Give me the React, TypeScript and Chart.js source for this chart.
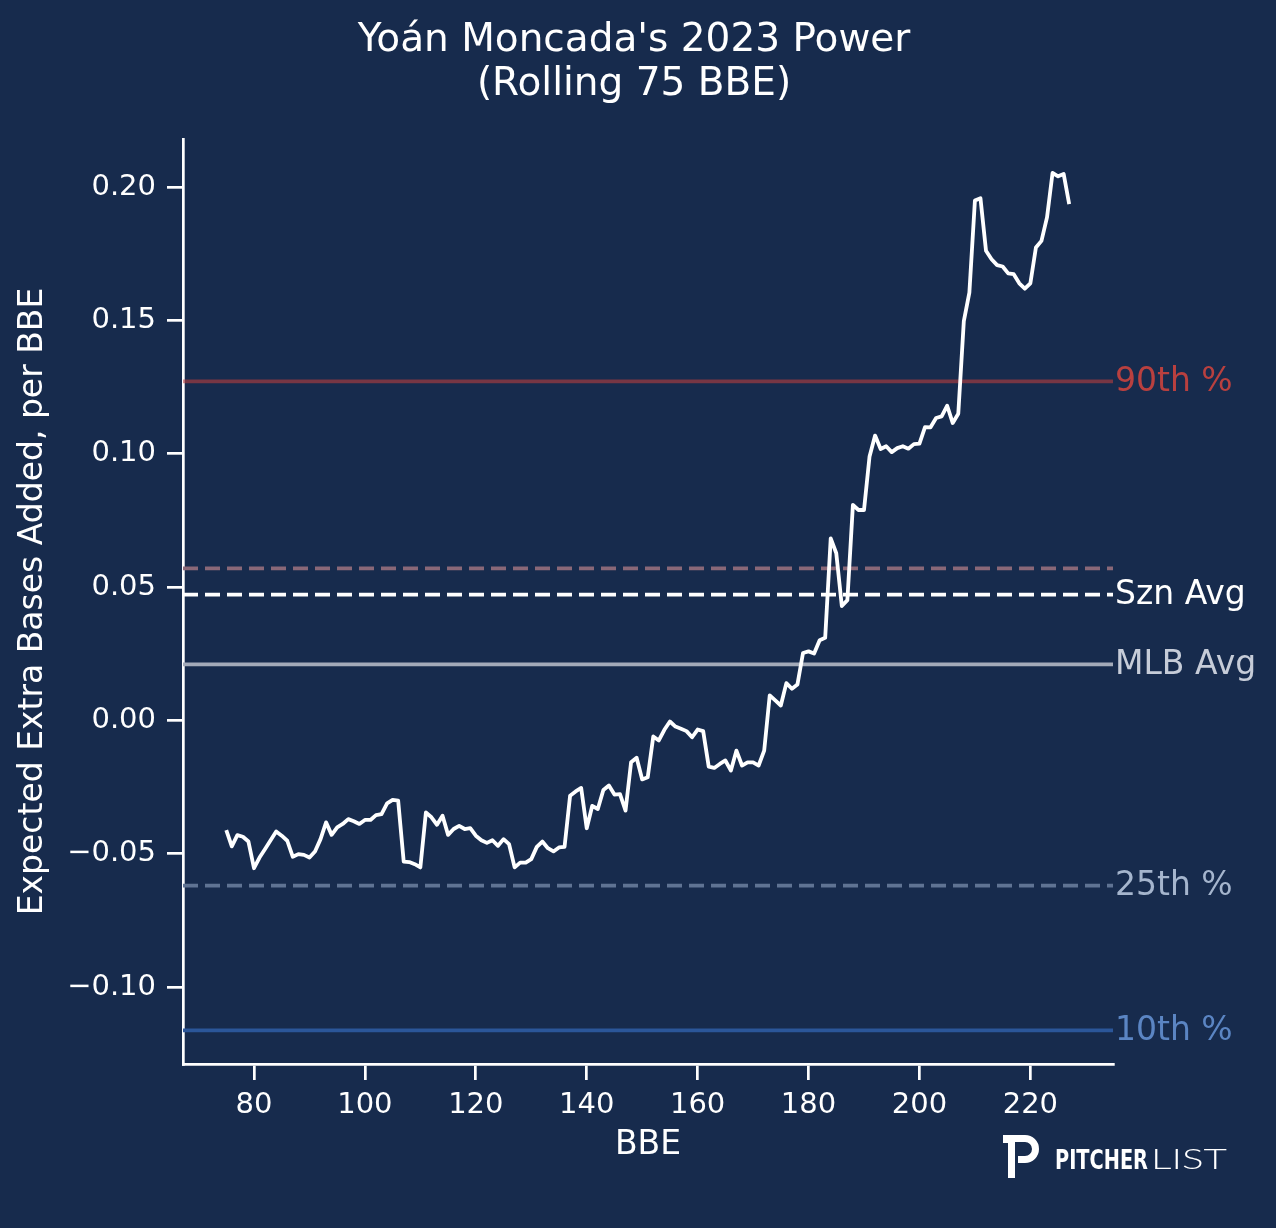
import React, { useEffect, useRef } from 'react';
import { Chart, registerables } from 'chart.js';

Chart.register(...registerables);

// rolling 75-BBE expected extra bases added, one value per BBE starting at 75
const firstBBE = 75;
const rollingValues = [
  -0.0411, -0.0472, -0.043, -0.0436, -0.0454, -0.0554, -0.0514, -0.0482, -0.0449, -0.0416,
  -0.0432, -0.0451, -0.0511, -0.0501, -0.0504, -0.0514, -0.0491, -0.0445, -0.0382, -0.0429,
  -0.0401, -0.0388, -0.037, -0.0378, -0.0388, -0.0373, -0.0373, -0.0355, -0.0351, -0.0311,
  -0.0298, -0.0301, -0.0529, -0.0531, -0.0539, -0.0551, -0.0345, -0.0363, -0.0391, -0.0357,
  -0.0429, -0.0407, -0.0395, -0.0407, -0.0404, -0.0432, -0.0449, -0.0459, -0.0449, -0.047,
  -0.0445, -0.0464, -0.0551, -0.0533, -0.0533, -0.052, -0.0474, -0.0454, -0.0479, -0.0491,
  -0.0476, -0.0474, -0.0282, -0.0266, -0.0253, -0.0404, -0.032, -0.0332, -0.0261, -0.0244,
  -0.0278, -0.0276, -0.0338, -0.0157, -0.014, -0.0221, -0.0213, -0.006, -0.0075, -0.0035,
  -0.0004, -0.0023, -0.0031, -0.004, -0.0063, -0.0034, -0.004, -0.0173, -0.0178, -0.0163,
  -0.015, -0.0188, -0.0113, -0.0169, -0.0157, -0.0157, -0.0169, -0.0113, 0.0094, 0.0075,
  0.0056, 0.014, 0.0119, 0.0135, 0.0253, 0.0259, 0.0251, 0.0301, 0.031, 0.0683,
  0.0627, 0.0429, 0.0451, 0.0808, 0.0789, 0.0789, 0.099, 0.1068, 0.1018, 0.1028,
  0.1006, 0.1021, 0.1028, 0.1019, 0.1036, 0.1038, 0.11, 0.1099, 0.1134, 0.114,
  0.118, 0.1115, 0.115, 0.1497, 0.1604, 0.1949, 0.1958, 0.1761, 0.1729, 0.1707,
  0.1702, 0.1676, 0.1673, 0.1639, 0.1619, 0.1639, 0.1773, 0.1798, 0.1886, 0.2053,
  0.204, 0.2049, 0.1936,
];

const xTicks = [80, 100, 120, 140, 160, 180, 200, 220];
const yTicks = [-0.1, -0.05, 0, 0.05, 0.1, 0.15, 0.2];

// reference lines
const refLabels = ['90th %', '', 'Szn Avg', 'MLB Avg', '25th %', '10th %'];
const refValues = [0.1271, 0.057, 0.0472, 0.021, -0.0619, -0.1162];

const refLineColors = ['rgba(190,62,62,0.58)', '#8a6878', '#ffffff', '#a3aab9', '#5f7393', '#2b5699'];
const refTextColors = ['#b9403f', '', '#ffffff', '#c6ccd8', '#a5b5cd', '#5b85c3'];
const refDashed = [false, true, true, false, true, false];

const X_MIN = 67.2;
const X_MAX = 234.9;
const Y_MIN = -0.1288;
const Y_MAX = 0.218;

const BG = '#172b4d';
const FONT = '"DejaVu Sans", sans-serif';

const overlayPlugin = {
  id: 'overlay',
  afterDraw(chart: any) {
    const { ctx, chartArea, scales } = chart;
    ctx.save();
    // title
    ctx.fillStyle = '#ffffff';
    ctx.textAlign = 'center';
    ctx.textBaseline = 'alphabetic';
    ctx.font = `39px ${FONT}`;
    ctx.fillText("Yoán Moncada's 2023 Power", 634, 51);
    ctx.fillText('(Rolling 75 BBE)', 634, 95);

    // reference labels
    ctx.font = `33px ${FONT}`;
    ctx.textAlign = 'left';
    ctx.textBaseline = 'middle';
    refLabels.forEach((label, i) => {
      if (!label) return;
      ctx.fillStyle = refTextColors[i];
      ctx.fillText(label, chartArea.right + 2, scales.y.getPixelForValue(refValues[i]) + 1);
    });

    // pitcher list logo
    ctx.fillStyle = '#ffffff';
    ctx.strokeStyle = '#ffffff';
    ctx.fillRect(1003, 1135, 12, 8);
    ctx.lineWidth = 7;
    ctx.beginPath();
    ctx.moveTo(1011.5, 1178);
    ctx.lineTo(1011.5, 1138.5);
    ctx.lineTo(1025, 1138.5);
    ctx.arc(1025, 1149, 10.5, -Math.PI / 2, Math.PI / 2);
    ctx.lineTo(1018, 1159.5);
    ctx.stroke();

    ctx.textAlign = 'left';
    ctx.textBaseline = 'alphabetic';
    ctx.font = `bold 24px ${FONT}`;
    const w1 = ctx.measureText('PITCHER').width;
    ctx.save();
    ctx.translate(1055, 1169);
    ctx.scale(93 / w1, 1.12);
    ctx.fillText('PITCHER', 0, 0);
    ctx.restore();
    ctx.font = `300 26px Lato, ${FONT}`;
    const w2 = ctx.measureText('LIST').width;
    ctx.save();
    ctx.translate(1151, 1169);
    ctx.scale(76 / w2, 1.05);
    ctx.fillText('LIST', 0, 0);
    ctx.restore();
    ctx.restore();
  },
};

const App: React.FC = () => {
  const canvasRef = useRef<HTMLCanvasElement>(null);

  useEffect(() => {
    document.body.style.margin = '0';
    document.body.style.background = BG;
    if (!canvasRef.current) return;
    const ctx = canvasRef.current.getContext('2d');
    if (!ctx) return;

    const mainData = rollingValues.map((v, i) => ({ x: firstBBE + i, y: v }));

    const refDatasets = refValues.map((v, i) => ({
      label: refLabels[i] || 'ref',
      data: [{ x: X_MIN, y: v }, { x: X_MAX, y: v }],
      borderColor: refLineColors[i],
      borderWidth: 3.7,
      borderDash: refDashed[i] ? [15, 7] : [],
      pointRadius: 0,
      fill: false,
    }));

    const chart = new Chart(ctx, {
      type: 'line',
      data: {
        datasets: [
          {
            label: 'Rolling',
            data: mainData,
            borderColor: '#ffffff',
            borderWidth: 3.8,
            borderJoinStyle: 'round',
            pointRadius: 0,
            tension: 0,
            fill: false,
          },
          ...refDatasets,
        ] as any,
      },
      options: {
        responsive: false,
        animation: false,
        events: [],
        layout: { padding: { left: 0, right: 163, top: 139, bottom: 0 } },
        plugins: {
          legend: { display: false },
          tooltip: { enabled: false },
          title: { display: false },
        },
        scales: {
          x: {
            type: 'linear',
            min: X_MIN,
            max: X_MAX,
            afterBuildTicks: (s: any) => {
              s.ticks = xTicks.map(v => ({ value: v }));
            },
            afterFit: (s: any) => {
              s.height = 164;
            },
            grid: {
              display: true,
              drawOnChartArea: false,
              drawTicks: true,
              tickLength: 16,
              color: '#ffffff',
              lineWidth: 2.7,
            },
            border: { display: true, color: '#ffffff', width: 2.7 },
            ticks: {
              color: '#ffffff',
              font: { family: FONT, size: 29 },
              padding: 8,
              maxRotation: 0,
              autoSkip: false,
              callback: (v: any) => String(v),
            },
            title: {
              display: true,
              text: 'BBE',
              color: '#ffffff',
              font: { family: FONT, size: 33 },
              padding: { top: 0, bottom: 63 },
            },
          },
          y: {
            type: 'linear',
            min: Y_MIN,
            max: Y_MAX,
            afterBuildTicks: (s: any) => {
              s.ticks = yTicks.map(v => ({ value: v }));
            },
            afterFit: (s: any) => {
              s.width = 183;
            },
            grid: {
              display: true,
              drawOnChartArea: false,
              drawTicks: true,
              tickLength: 16,
              color: '#ffffff',
              lineWidth: 2.7,
            },
            border: { display: true, color: '#ffffff', width: 2.7 },
            ticks: {
              color: '#ffffff',
              font: { family: FONT, size: 29 },
              padding: 11,
              autoSkip: false,
              callback: (v: any) => Number(v).toFixed(2).replace('-', '\u2212'),
            },
            title: {
              display: true,
              text: 'Expected Extra Bases Added, per BBE',
              color: '#ffffff',
              font: { family: FONT, size: 33 },
              padding: { top: 14, bottom: 0 },
            },
          },
        },
      },
      plugins: [overlayPlugin],
    });

    return () => {
      chart.destroy();
    };
  }, []);

  return (
    <div style={{ width: 1276, height: 1228, background: BG }}>
      <canvas ref={canvasRef} width={1276} height={1228} style={{ display: 'block' }} />
    </div>
  );
};

export default App;
